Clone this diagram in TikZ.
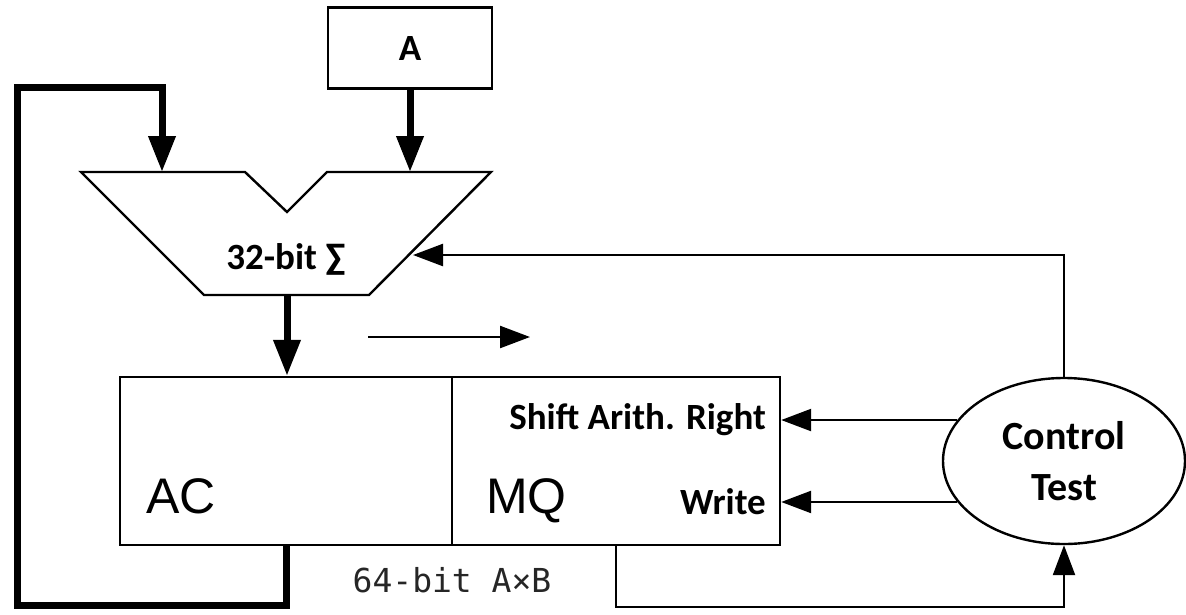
\documentclass[tikz,border=0pt]{standalone}
\usepackage{fontspec}
\setmainfont{Carlito}
\newfontfamily\armono{DejaVu Sans Mono}
\newfontfamily\arsans{Liberation Sans}
\usetikzlibrary{shapes.geometric,arrows.meta}
\begin{document}
\begin{tikzpicture}[x=1pt,y=-1pt,
  thin line/.style={line width=2.4pt},
  thick line/.style={line width=7pt},
  thinarrow/.style={thin line,-{Triangle[length=30pt,width=22pt]}},
  thickarrow/.style={thick line,-{Triangle[length=36pt,width=26pt]}},
  box/.style={draw,line width=2.4pt,inner sep=0pt},
  lbl/.style={font=\fontsize{37}{40}\selectfont\bfseries,inner sep=0pt},
  big/.style={font=\arsans\fontsize{50}{56}\selectfont,inner sep=0pt,anchor=base west}]
\useasboundingbox (0,0) rectangle (1186,614);
% A box
\node[box,minimum width=164pt,minimum height=81pt,lbl] (a) at (410,48) {A};
% ALU
\draw[thin line,line join=miter] (81,172) -- (245,172) -- (287,212) -- (327,172) -- (491,172) -- (369,295) -- (204,295) -- cycle;
\node[lbl] (alu) at (286,259) {32-bit ∑};
\coordinate (aluInL) at (162,172);
\coordinate (aluInR) at (410,172);
\coordinate (aluOut) at (287,295);
\coordinate (aluCtl) at (413,255);
% registers
\node[box,minimum width=332pt,minimum height=168pt] (ac) at (286,461) {};
\node[box,minimum width=328pt,minimum height=168pt] (mq) at (616,461) {};
\node[big] (actext) at (146,513) {AC};
\node[big] (mqtext) at (486,513) {MQ};
\node[lbl,anchor=east] (shift) at (766,420) {Shift Arith. Right};
\node[lbl,anchor=east] (write) at (766,502) {Write};
% control
\node[draw,ellipse,line width=2.4pt,minimum width=242pt,minimum height=166pt,inner sep=0pt,align=center,font=\fontsize{40}{51}\selectfont\bfseries] (ctl) at (1064,461) {Control\\Test};
% product label
\node[font=\armono\fontsize{33}{36}\selectfont,text=black!85,inner sep=0pt] (prod) at (452,580) {64-bit A×B};
% connectors
\draw[thickarrow] (a.south) -- (aluInR);
\coordinate (loopBL) at (17,605);
\coordinate (loopTL) at (17,87);
\draw[thickarrow,line join=miter] (ac.south) -- (ac.south |- loopBL) -- (loopBL) -- (loopTL) -| (aluInL);
\draw[thickarrow] (aluOut) -- (ac.north -| aluOut);
\draw[thinarrow] (ctl.north) |- (aluCtl);
\draw[thinarrow] (ctl.159) -- (ctl.159 -| mq.east);
\draw[thinarrow] (ctl.201) -- (ctl.201 -| mq.east);
\coordinate (mqDown) at (616,607);
\draw[thinarrow] (mq.south) -- (mqDown) -| (ctl.south);
\coordinate (sa) at (368,337);
\coordinate (sb) at (530,337);
\draw[thinarrow] (sa) -- (sb);
\end{tikzpicture}
\end{document}
